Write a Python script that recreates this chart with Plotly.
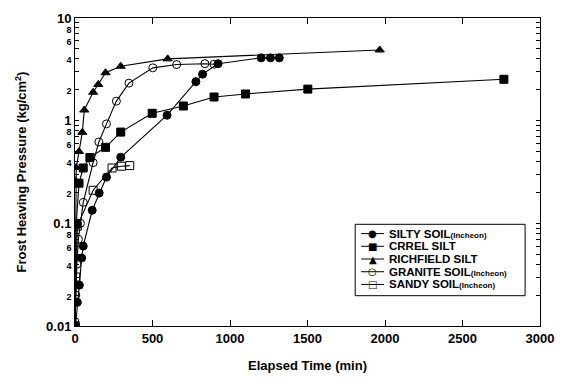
import plotly.graph_objects as go

# ---- data (elapsed time in min, frost heaving pressure in kg/cm^2) ----
silty_t = [3, 15, 28, 43, 53, 111, 156, 203, 295, 594, 780, 823, 923, 1201, 1261, 1318]
silty_p = [0.01, 0.017, 0.025, 0.046, 0.06, 0.134, 0.197, 0.282, 0.44, 1.13, 2.4, 2.84, 3.59, 4.09, 4.09, 4.09]

crrel_t = [0, 8, 26, 53, 96, 197, 295, 498, 699, 897, 1100, 1502, 2767]
crrel_p = [0.01, 0.1, 0.246, 0.346, 0.437, 0.55, 0.774, 1.18, 1.39, 1.70, 1.82, 2.03, 2.53]

rich_t = [0, 3, 8, 26, 47, 60, 117, 150, 197, 295, 598, 1966]
rich_p = [0.01, 0.26, 0.35, 0.5, 0.77, 1.27, 1.89, 2.25, 2.93, 3.39, 4.0, 4.88]

gran_t = [0, 5, 12, 22, 35, 53, 117, 154, 203, 267, 348, 502, 656, 838, 897]
gran_p = [0.011, 0.02, 0.04, 0.07, 0.1, 0.16, 0.39, 0.62, 0.93, 1.55, 2.32, 3.27, 3.52, 3.59, 3.55]

sandy_t = [0, 5, 15, 117, 239, 299, 353]
sandy_p = [0.01, 0.03, 0.094, 0.21, 0.346, 0.36, 0.365]

x_ticks = [0, 500, 1000, 1500, 2000, 2500, 3000]

FONT = "Liberation Sans, Arial, sans-serif"
small = "<span style='font-size:8px'>(Incheon)</span>"

series = [
    ("SILTY SOIL" + small, silty_t, silty_p, "circle", "\u25CF"),
    ("CRREL SILT", crrel_t, crrel_p, "square", "\u25A0"),
    ("RICHFIELD SILT", rich_t, rich_p, "triangle-up", "\u25B2"),
    ("GRANITE SOIL" + small, gran_t, gran_p, "circle-open", "\u25CB"),
    ("SANDY SOIL" + small, sandy_t, sandy_p, "square-open", "\u25A1"),
]

fig = go.Figure()
for name, t, p, sym, glyph in series:
    fig.add_trace(go.Scatter(
        x=t, y=p, name=name, mode="lines+markers", showlegend=False,
        line=dict(color="black", width=1.1),
        marker=dict(symbol=sym, size=8, color="black",
                    line=dict(color="black", width=1)),
    ))

# ---- compact legend box drawn in paper coordinates ----
L, R, T, B = 75, 543, 11, 326          # plot area in pixels
def px(xp):
    return (xp - L) / (R - L)
def py(yp):
    return (B - yp) / (B - T)

box = dict(x0=357, x1=528, y0=222, y1=295)
fig.add_shape(type="rect", xref="paper", yref="paper",
              x0=px(box["x0"]), x1=px(box["x1"]), y0=py(box["y1"]), y1=py(box["y0"]),
              line=dict(color="black", width=1), fillcolor="white", layer="above")
row_y = [231.5, 244.5, 257.5, 270.5, 283.5]
for (name, t, p, sym, glyph), ry in zip(series, row_y):
    fig.add_shape(type="line", xref="paper", yref="paper",
                  x0=px(363), x1=px(386), y0=py(ry), y1=py(ry),
                  line=dict(color="black", width=1), layer="above")
    fig.add_annotation(xref="paper", yref="paper", x=px(374.5), y=py(ry),
                       text=glyph, showarrow=False, xanchor="center", yanchor="middle",
                       font=dict(family="DejaVu Sans", size=10, color="black"))
    fig.add_annotation(xref="paper", yref="paper", x=px(390), y=py(ry),
                       text="<b>%s</b>" % name, showarrow=False,
                       xanchor="left", yanchor="middle", borderpad=0,
                       font=dict(family=FONT, size=11.5, color="black"))

# y ticks: decades big, 2/4/6/8 small
yvals, ytext = [], []
for dec in [0.01, 0.1, 1]:
    for m in range(1, 10):
        v = round(m * dec, 4)
        yvals.append(v)
        if m == 1:
            ytext.append("%g" % v)
        elif m % 2 == 0:
            ytext.append("<span style='font-size:9px'>%d</span>" % m)
        else:
            ytext.append(" ")
yvals.append(10)
ytext.append("10")

fig.update_layout(
    width=565, height=383,
    margin=dict(l=L, r=565 - R, t=T, b=383 - B),
    paper_bgcolor="white", plot_bgcolor="white",
    font=dict(family=FONT, color="black", size=11),
    showlegend=False,
    xaxis=dict(
        range=[0, 3000], tickvals=x_ticks,
        ticks="inside", ticklen=6, tickcolor="black",
        showline=True, linecolor="black", linewidth=1, mirror="ticks",
        showgrid=False, zeroline=False,
        tickfont=dict(family=FONT, size=13, weight="bold"),
        title=dict(text="Elapsed Time (min)", standoff=16,
                   font=dict(family=FONT, size=13, weight="bold")),
    ),
    yaxis=dict(
        type="log", range=[-2, 1],
        tickvals=yvals, ticktext=ytext,
        ticks="inside", ticklen=4, tickcolor="black",
        showline=True, linecolor="black", linewidth=1, mirror="ticks",
        showgrid=False, zeroline=False,
        tickfont=dict(family=FONT, size=13, weight="bold"),
        title=dict(text="Frost Heaving Pressure (kg/cm<sup>2</sup>)", standoff=16,
                   font=dict(family=FONT, size=13, weight="bold")),
    ),
)

fig.write_html("out.html")
